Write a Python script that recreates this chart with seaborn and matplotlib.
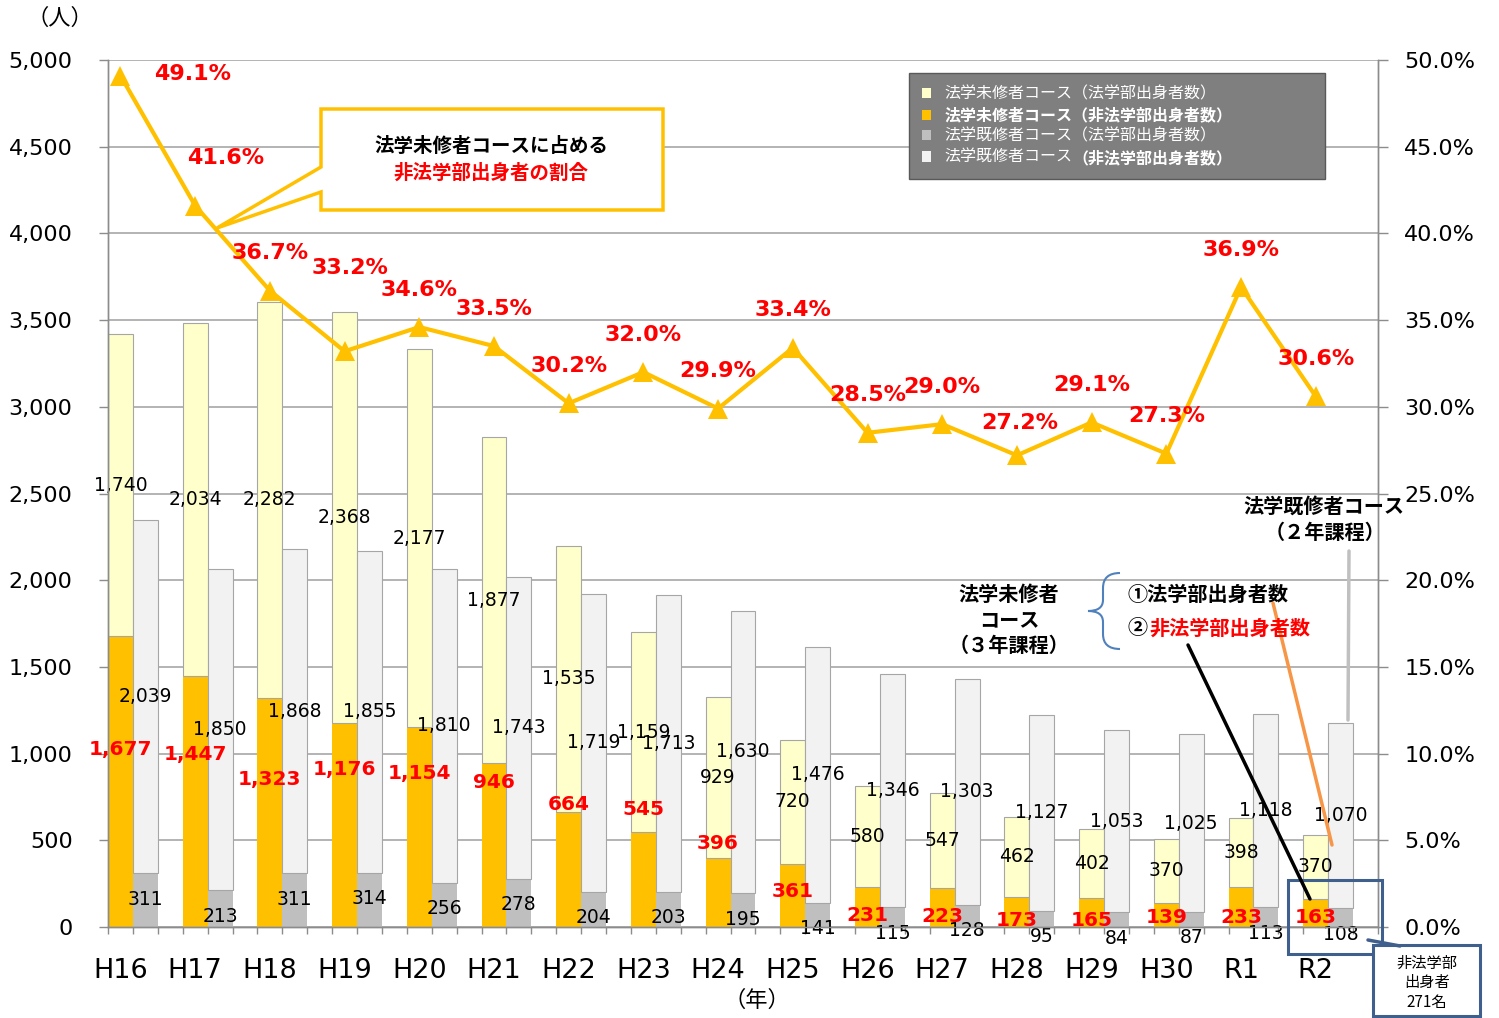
import numpy as np
import pandas as pd
import matplotlib.pyplot as plt
import seaborn as sns
from matplotlib.patches import Patch, Rectangle, Polygon, PathPatch
from matplotlib.path import Path
from matplotlib.lines import Line2D
from matplotlib.ticker import FuncFormatter, MultipleLocator

# data
years = ['H16', 'H17', 'H18', 'H19', 'H20', 'H21', 'H22', 'H23', 'H24',
         'H25', 'H26', 'H27', 'H28', 'H29', 'H30', 'R1', 'R2']
mishu_law = [1740, 2034, 2282, 2368, 2177, 1877, 1535, 1159, 929,
             720, 580, 547, 462, 402, 370, 398, 370]
mishu_nonlaw = [1677, 1447, 1323, 1176, 1154, 946, 664, 545, 396,
                361, 231, 223, 173, 165, 139, 233, 163]
kishu_gray = [311, 213, 311, 314, 256, 278, 204, 203, 195,
              141, 115, 128, 95, 84, 87, 113, 108]
kishu_light = [2039, 1850, 1868, 1855, 1810, 1743, 1719, 1713, 1630,
               1476, 1346, 1303, 1127, 1053, 1025, 1118, 1070]
nonlaw_ratio = [49.1, 41.6, 36.7, 33.2, 34.6, 33.5, 30.2, 32.0, 29.9,
                33.4, 28.5, 29.0, 27.2, 29.1, 27.3, 36.9, 30.6]

legend_labels = ['法学未修者コース（法学部出身者数）',
                 '法学未修者コース（非法学部出身者数）',
                 '法学既修者コース（法学部出身者数）',
                 '法学既修者コース']

# layout only: where the red counts sit, and offsets for the % labels
nonlaw_label_y = [1021, 992, 848, 911, 888, 836, 709, 675, 484,
                  202, 69, 58, 40, 40, 52, 52, 52]
pct_offsets = {0: (52, 1), 1: (22, 34), 3: (4, 60), 12: (2, 23)}

YELLOW = '#FFFFCC'
ORANGE = '#FFC000'
GRAY = '#BFBFBF'
LIGHT = '#F2F2F2'
AXIS = '#8C8C8C'
JP = ['Noto Sans CJK JP', 'DejaVu Sans']

sns.set_theme(style='white')
plt.rcParams['font.family'] = ['DejaVu Sans', 'Noto Sans CJK JP']
plt.rcParams['text.color'] = 'black'

W, H = 1499, 1018


def P(px, py):
    return (px / W, 1 - py / H)


fig = plt.figure(figsize=(W / 100, H / 100), dpi=100)
ax = fig.add_axes([108 / W, 1 - 927 / H, 1270 / W, 867 / H])

df = pd.DataFrame({'year': years, 'mishu_law': mishu_law, 'mishu_nonlaw': mishu_nonlaw,
                   'kishu_gray': kishu_gray, 'kishu_light': kishu_light,
                   'ratio': nonlaw_ratio})
x = np.arange(len(df))
bw = 1 / 3

ax.bar(x, df['mishu_nonlaw'], bw, color=ORANGE, edgecolor='none', zorder=2)
ax.bar(x, df['mishu_law'], bw, bottom=df['mishu_nonlaw'], color=YELLOW,
       edgecolor='#A6A6A6', linewidth=0.8, zorder=2)
ax.bar(x + bw, df['kishu_gray'], bw, color=GRAY, edgecolor='none', zorder=2)
ax.bar(x + bw, df['kishu_light'], bw, bottom=df['kishu_gray'], color=LIGHT,
       edgecolor='#A6A6A6', linewidth=0.8, zorder=2)

ax.set_xlim(-1 / 6, len(df) - 1 / 6)
ax.set_ylim(0, 5000)
ax.yaxis.set_major_locator(MultipleLocator(500))
ax.yaxis.set_major_formatter(FuncFormatter(lambda v, p: f'{int(v):,}'))
ax.yaxis.grid(True, color='#B3B3B3', linewidth=1.4)
ax.set_axisbelow(True)
ax.set_xticks(x)
ax.set_xticklabels(years)
ax.set_xticks(np.arange(-1 / 6, len(df), 1 / 3), minor=True)
ax.tick_params(axis='y', left=True, length=6.5, width=1, color=AXIS, pad=19,
               labelsize=16, labelcolor='black')
ax.tick_params(axis='x', which='major', bottom=True, length=0, pad=22,
               labelsize=19.5, labelcolor='black')
ax.tick_params(axis='x', which='minor', bottom=True, length=5, width=1, color=AXIS)
ax.set_xlabel('')
ax.set_ylabel('')

# data labels on the bars
for i in range(len(df)):
    ax.text(x[i], mishu_nonlaw[i] + mishu_law[i] / 2, f'{mishu_law[i]:,}',
            ha='center', va='center', fontsize=13.5, zorder=4)
    ax.text(x[i] + bw, kishu_gray[i] + kishu_light[i] / 2, f'{kishu_light[i]:,}',
            ha='center', va='center', fontsize=13.5, zorder=4)
    ax.text(x[i], nonlaw_label_y[i], f'{mishu_nonlaw[i]:,}', ha='center', va='center',
            fontsize=14.5, fontweight='bold', color='red', zorder=4)
    ax.text(x[i] + bw, kishu_gray[i] - 150, f'{kishu_gray[i]:,}',
            ha='center', va='center', fontsize=13.5, zorder=4, clip_on=False)

ax2 = ax.twinx()
sns.lineplot(x=x, y=df['ratio'], ax=ax2, color=ORANGE, linewidth=3, marker='^',
             markersize=14, markeredgewidth=0, zorder=5)
ax2.set_ylim(0, 50)
ax2.yaxis.set_major_locator(MultipleLocator(5))
ax2.yaxis.set_major_formatter(FuncFormatter(lambda v, p: f'{v:.1f}%'))
ax2.tick_params(axis='y', right=True, length=7, width=1, color=AXIS, pad=12,
                labelsize=16, labelcolor='black')
ax2.set_ylabel('')
for a in (ax, ax2):
    for s in a.spines.values():
        s.set_color(AXIS)
        s.set_linewidth(1)
    a.spines['top'].set_visible(False)

for i, v in enumerate(nonlaw_ratio):
    ax2.annotate(f'{v:.1f}%', xy=(x[i], v), xytext=pct_offsets.get(i, (0, 27)),
                 textcoords='offset points', ha='center', va='center',
                 fontsize=16, fontweight='bold', color='red', zorder=6)

# legend
handles = [Patch(facecolor=c, edgecolor='none') for c in (YELLOW, ORANGE, GRAY, LIGHT)]
leg = ax2.legend(handles, legend_labels, loc='upper left',
                 bbox_to_anchor=(0.6307, 0.873, 0.3276, 0.112), mode='expand',
                 borderaxespad=0, frameon=True, fancybox=False,
                 facecolor='#7F7F7F', edgecolor='#595959', framealpha=1,
                 handlelength=0.6, handleheight=0.6, handletextpad=0.8,
                 labelspacing=0.28, borderpad=0.8, labelcolor='white',
                 prop={'family': JP, 'size': 11.5})
leg.set_zorder(8)
leg.get_texts()[1].set_fontweight('bold')
ax2.annotate('（非法学部出身者数）', xy=(1, 0), xycoords=leg.get_texts()[3],
             ha='left', va='bottom', fontsize=11.5, fontweight='bold', color='white',
             family=JP, zorder=10)

# callout for the ratio line
callout = Polygon([P(321, 109), P(663, 109), P(663, 210), P(321, 210), P(321, 192),
                   P(217, 228), P(321, 167)], closed=True, facecolor='white',
                  edgecolor=ORANGE, linewidth=2.5, transform=fig.transFigure)
fig.add_artist(callout)
fig.text(*P(491, 147), '法学未修者コースに占める', ha='center', va='center',
         fontsize=14, fontweight='bold', family=JP)
fig.text(*P(491, 173), '非法学部出身者の割合', ha='center', va='center',
         fontsize=14, fontweight='bold', color='red', family=JP)

# course notes on the right
fig.text(*P(1324, 506), '法学既修者コース', ha='center', va='center',
         fontsize=14.5, fontweight='bold', family=JP)
fig.text(*P(1325, 532), '（２年課程）', ha='center', va='center',
         fontsize=14.5, fontweight='bold', family=JP)
fig.text(*P(1009, 620), '法学未修者\nコース\n（３年課程）', ha='center', va='center',
         fontsize=14.5, fontweight='bold', family=JP, linespacing=1.25)
fig.text(*P(1127, 594), '①法学部出身者数', ha='left', va='center',
         fontsize=14.5, fontweight='bold', family=JP)
fig.text(*P(1127, 628), '②', ha='left', va='center',
         fontsize=14.5, fontweight='bold', family=JP)
fig.text(*P(1149, 628), '非法学部出身者数', ha='left', va='center',
         fontsize=14.5, fontweight='bold', color='red', family=JP)

brace = Path([P(1120, 573), P(1103, 573), P(1103, 588), P(1103, 600),
              P(1103, 611), P(1088, 611), P(1103, 611), P(1103, 622),
              P(1103, 634), P(1103, 649), P(1120, 649)],
             [Path.MOVETO, Path.CURVE3, Path.CURVE3, Path.LINETO,
              Path.CURVE3, Path.CURVE3, Path.CURVE3, Path.CURVE3,
              Path.LINETO, Path.CURVE3, Path.CURVE3])
fig.add_artist(PathPatch(brace, fill=False, edgecolor='#4F81BD', linewidth=1.5,
                         transform=fig.transFigure))


def pointer(p1, p2, color):
    fig.add_artist(Line2D([p1[0], p2[0]], [p1[1], p2[1]], color=color,
                          linewidth=2.5, transform=fig.transFigure))


pointer(P(1349, 551), P(1348, 720), '#C0C0C0')
pointer(P(1273, 603), P(1332, 845), '#F79646')
pointer(P(1188, 645), P(1310, 899), 'black')

# R2 box and total note
BLUE = '#3F5F8C'
fig.add_artist(Rectangle(P(1288, 954), 94 / W, 74 / H, fill=False, edgecolor=BLUE,
                         linewidth=2.2, transform=fig.transFigure))
pointer(P(1368, 940), P(1400, 946), BLUE)
fig.add_artist(Rectangle(P(1373, 1016), 107 / W, 71 / H, facecolor='white',
                         edgecolor=BLUE, linewidth=2.2, transform=fig.transFigure))
fig.text(*P(1427, 983), '非法学部\n出身者\n271名', ha='center', va='center',
         fontsize=11, family=JP, linespacing=1.2)

fig.text(*P(60, 18), '（人）', ha='center', va='center', fontsize=16, family=JP)
fig.text(*P(757, 1000), '（年）', ha='center', va='center', fontsize=16, family=JP)

fig.savefig('out.png', dpi=100)
